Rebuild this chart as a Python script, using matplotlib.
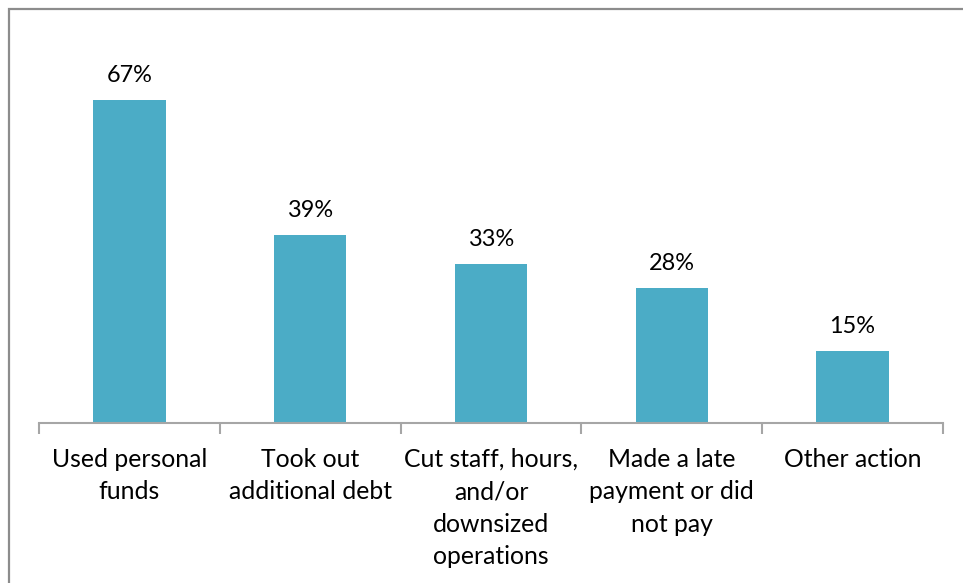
import matplotlib
matplotlib.use("Agg")
import matplotlib.pyplot as plt
from matplotlib.patches import Rectangle

categories = [
    "Used personal\nfunds",
    "Took out\nadditional debt",
    "Cut staff, hours,\nand/or\ndownsized\noperations",
    "Made a late\npayment or did\nnot pay",
    "Other action",
]
values = [67, 39, 33, 28, 15]
value_labels = ["67%", "39%", "33%", "28%", "15%"]

bar_color = "#4BACC6"
axis_color = "#A6A6A6"
font = ["Lato", "DejaVu Sans"]

W, H = 963, 583
fig = plt.figure(figsize=(W / 100, H / 100), dpi=100)
fig.patch.set_facecolor("white")

# outer chart frame (runs off the right and bottom edges)
fig.patches.append(Rectangle((9 / W, -0.1), 1.2, (H - 9) / H + 0.1,
                             transform=fig.transFigure, fill=False,
                             edgecolor="#8C8C8C", linewidth=1.6))

left, right, base, top = 39, 943, 423, 37
ax = fig.add_axes([left / W, (H - base) / H, (right - left) / W, (base - top) / H])
ax.set_facecolor("none")

x = list(range(len(categories)))
bars = ax.bar(x, values, width=0.4, color=bar_color, zorder=2)
ax.set_xlim(-0.5, len(categories) - 0.5)
ax.set_ylim(0, 80)

for rect, lab in zip(bars, value_labels):
    ax.annotate(lab, (rect.get_x() + rect.get_width() / 2, rect.get_height()),
                xytext=(0, 10), textcoords="offset points",
                ha="center", va="bottom", fontsize=16.9, family=font, color="black")

for s in ["top", "right", "left"]:
    ax.spines[s].set_visible(False)
ax.spines["bottom"].set_color(axis_color)
ax.spines["bottom"].set_linewidth(1.5)
ax.set_yticks([])

# category boundary ticks
ax.set_xticks([i - 0.5 for i in range(len(categories) + 1)], minor=False)
ax.set_xticklabels([])
ax.tick_params(axis="x", which="major", direction="out", length=8,
               width=1.5, color=axis_color)
ax.set_xticks(x, minor=True)
ax.set_xticklabels(categories, minor=True, fontsize=17.8, family=font,
                   linespacing=1.49, va="top")
ax.tick_params(axis="x", which="minor", length=0, pad=18)

fig.savefig("out.png", dpi=100, facecolor="white")
